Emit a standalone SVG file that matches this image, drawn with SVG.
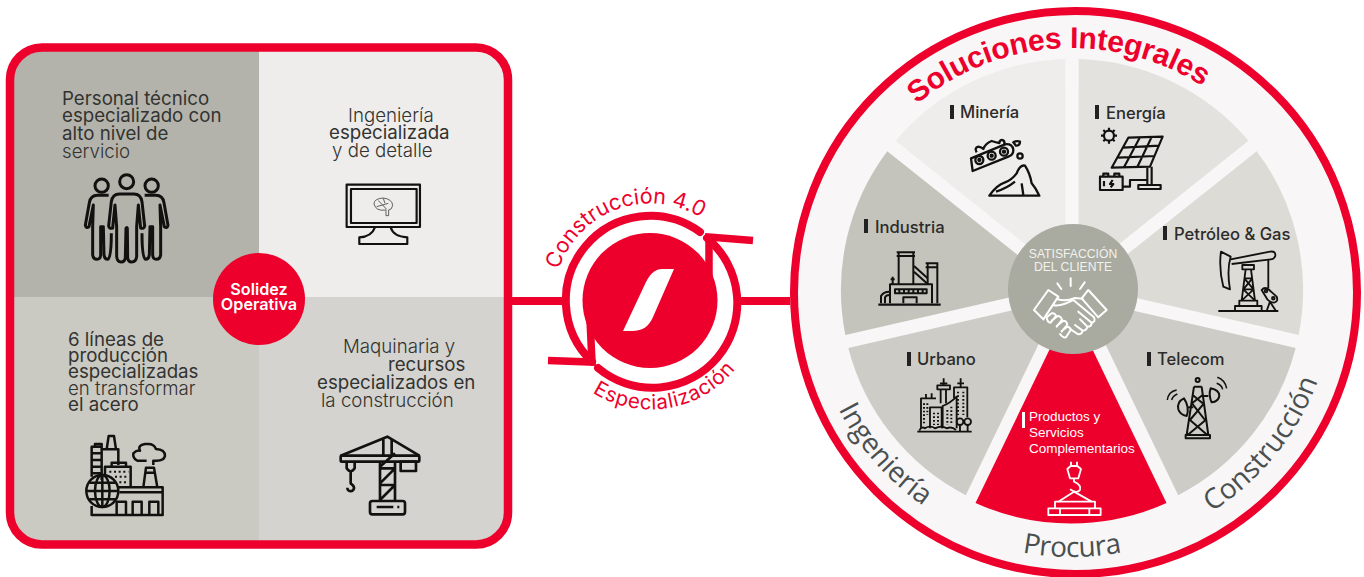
<svg xmlns="http://www.w3.org/2000/svg" width="1364" height="577" viewBox="0 0 1364 577">
<style>
.t{font-family:Inter,"Liberation Sans",sans-serif;font-size:18.7px;fill:#333331}
.l{font-weight:300}
.lab{font-family:Inter,"Liberation Sans",sans-serif;font-size:16.6px;font-weight:500;fill:#2b2b2a}
.ic{fill:none;stroke:#111110;stroke-linejoin:round}
.ring{font-family:"Open Sans","Liberation Sans",sans-serif;font-size:28px;fill:#4a4f4f}
.red{fill:#ed002c}
.cn{fill:none;stroke:#ed002c;stroke-width:8}
.sm{font-family:Inter,"Liberation Sans",sans-serif;fill:#ed002c}
</style>
<defs>
<clipPath id="pc"><rect x="10" y="47.5" width="498" height="497" rx="32"/></clipPath>
<path id="wedge" d="M0 -15 L94.2 -211 A231 231 0 0 0 -94.2 -211 Z"/>
<path id="a1" d="M830 290 A242 242 0 0 1 1314 290"/>
<path id="a2" d="M810 290 A262 262 0 0 0 1334 290"/>
<path id="a3" d="M805 290 A267 267 0 0 0 1339 290"/>
<path id="a4" d="M553.5 300.5 A97 97 0 0 1 747.5 300.5"/>
<path id="a5" d="M541.5 300.5 A109 109 0 0 0 759.5 300.5"/>
</defs>

<g id="connectors">
<path class="cn" d="M512 301 H562 M739 301 H790"/>
<path class="cn" stroke-linecap="round" d="M700 232 A84.5 84.5 0 0 0 592 361.5"/>
<path class="cn" stroke-linecap="round" d="M598 368 A84.5 84.5 0 0 0 707 238"/>
</g>

<g id="panel">
<g clip-path="url(#pc)">
<rect x="10" y="47" width="249" height="250" fill="#b4b3ab"/>
<rect x="259" y="47" width="249" height="250" fill="#eeedeb"/>
<rect x="10" y="297" width="249" height="248" fill="#cacac3"/>
<rect x="259" y="297" width="249" height="248" fill="#d4d3cf"/>
</g>
<rect x="10" y="47.5" width="498" height="497" rx="32" fill="none" stroke="#ed002c" stroke-width="8.5"/>
</g>

<g id="personal">
<text class="t" x="62" y="105">Personal técnico</text>
<text class="t" x="62" y="122">especializado con</text>
<text class="t" x="62" y="140">alto nivel de</text>
<text class="t l" x="62" y="158">servicio</text>
<g class="ic" transform="translate(70 160) scale(.3333)" stroke-width="9">
<circle cx="170" cy="65" r="21"/><circle cx="95" cy="77" r="20"/><circle cx="245" cy="77" r="20"/>
<path d="M148 102 H192 Q212 102 216 125 L224 198 Q222 208 212 204 L205 135 L200 200 V290 Q198 306 185 306 Q174 306 173 292 L172 205 Q171 200 168 205 L166 292 Q165 306 153 306 Q142 306 140 290 V200 L135 135 L128 204 Q118 208 116 198 L124 125 Q128 102 148 102 Z"/>
<path d="M116 106 H82 Q62 106 58 128 L46 196 Q48 206 57 200 L70 135 L68 200 V285 Q70 298 81 298 Q91 298 92 285 L92 200 L100 200 L102 285 Q104 298 113 298 Q124 298 124 220"/>
<path d="M224 106 H258 Q278 106 282 128 L294 196 Q292 206 283 200 L270 135 L272 200 V285 Q270 298 259 298 Q249 298 248 285 L248 200 L240 200 L238 285 Q236 298 227 298 Q216 298 216 220"/>
</g>
</g>

<g id="ingenieria-detalle">
<text class="t l" x="348" y="122">Ingeniería</text>
<text class="t" x="329" y="139">especializada</text>
<text class="t l" x="332" y="157">y de detalle</text>
<g class="ic" transform="translate(0 30) scale(.3333)">
<g stroke-width="6.500"><rect x="1040" y="464" width="220" height="127"/><rect x="1053" y="477" width="197" height="102"/>
<path d="M1125 592 Q1115 620 1078 622 V642 H1222 V622 Q1180 620 1172 592"/></g>
<g stroke-width="2.500" stroke="#444"><path d="M1122 522 Q1122 506 1150 504 Q1178 508 1178 527 Q1175 540 1166 540 V557 H1158 V540 Q1128 545 1122 522 Z"/>
<path d="M1135 512 L1148 525 L1165 520 M1150 505 L1155 520 M1130 530 L1148 525 L1160 538"/></g>
</g>
</g>

<g id="lineas">
<text class="t" x="68" y="346">6 líneas de</text>
<text class="t" x="68" y="362">producción</text>
<text class="t" x="68" y="378">especializadas</text>
<text class="t l" x="68" y="395">en transformar</text>
<text class="t" x="68" y="411">el acero</text>
<g class="ic" transform="translate(0 290) scale(.3333)" stroke-width="7.500">
<path d="M275 560 V470 H305 V570 M275 490 H305 M275 510 H305 M275 530 H305 M275 550 H305 M285 470 V462 H305 V478 H355 V525"/>
<path d="M320 478 L326 438 H342 L348 478"/>
<path d="M315 555 V530 H392 V592 M335 530 V518 H378 V530"/>
<path d="M328 545 H385 M345 560 H385 M358 577 H385" stroke-width="6" stroke-dasharray="6 8"/>
<path d="M430 592 L438 533 H462 L472 592 M435 548 H466"/>
<path d="M440 512 H412 Q398 505 400 490 Q410 480 420 482 Q412 465 435 462 H445 Q462 462 468 477 Q495 478 495 498 Q492 512 470 512 H460 V525"/>
<path d="M355 592 H488 V675 H275 V648 M358 607 H488"/>
<path d="M350 675 V635 H378 V675 M398 675 V635 H425 V675 M448 675 V635 H475 V675"/>
<circle cx="307" cy="603" r="48"/><ellipse cx="307" cy="603" rx="22" ry="48"/>
<path d="M307 555 V651 M259 603 H355 M268 578 H346 M268 628 H346"/>
</g>
</g>

<g id="maquinaria">
<text class="t l" x="343" y="353">Maquinaria y</text>
<text class="t" x="388" y="371">recursos</text>
<text class="t" x="317" y="389">especializados en</text>
<text class="t l" x="321" y="407">la construcción</text>
<g class="ic" transform="translate(330 425) scale(.3333)" stroke-width="8">
<path d="M150 110 V225 M195 110 V225 M150 125 L195 85 M150 130 H195 M150 175 L195 130 M150 180 H195 M150 225 L195 180"/>
<path d="M32 92 L172 35 L268 92 M160 38 V92 M185 42 V92"/>
<rect x="32" y="92" width="236" height="18" rx="3"/>
<rect x="212" y="110" width="46" height="28"/>
<path d="M50 112 V130 Q62 148 74 130 V112 M62 142 V175 Q80 188 66 198 Q52 200 52 188"/>
<rect x="120" y="228" width="105" height="40" rx="7"/>
<path d="M140 246 H190 M202 246 H208"/>
</g>
</g>

<g id="solidez">
<circle class="red" cx="259" cy="299" r="46"/>
<text x="259" y="295" text-anchor="middle" font-family="Inter,'Liberation Sans',sans-serif" font-size="16.200" font-weight="600" fill="#fff">Solidez</text>
<text x="259" y="310" text-anchor="middle" font-family="Inter,'Liberation Sans',sans-serif" font-size="16.200" font-weight="600" fill="#fff">Operativa</text>
</g>

<g id="especializacion-ciclo">
<circle class="red" cx="650" cy="300.5" r="67.5"/>
<path d="M674 269 H662 C654 269 649 276 646 282 L623 331 H632 C643 331 649 326 653 317 Z" fill="#fff"/>
<path d="M753 240.500 L709 237 L709 285" fill="none" stroke="#ed002c" stroke-width="7.500"/>
<path d="M548 360.500 L592 362 L590 320" fill="none" stroke="#ed002c" stroke-width="7.500"/>
<text class="sm" font-size="21.500"><textPath href="#a4" startOffset="38.900%" text-anchor="middle">Construcción 4.0</textPath></text>
<text class="sm" font-size="20.500" letter-spacing=".6"><textPath href="#a5" startOffset="55.300%" text-anchor="middle">Especialización</textPath></text>
</g>

<g id="rueda">
<circle cx="1075.500" cy="292.500" r="281.500" fill="#f8f6f7" stroke="#ed002c" stroke-width="8"/>
<text font-family="'Liberation Sans',Arial,sans-serif" font-size="30" font-weight="700" fill="#ed002c" letter-spacing="-.2"><textPath href="#a1" startOffset="48%" text-anchor="middle">Soluciones Integrales</textPath></text>
<text class="ring"><textPath href="#a2" startOffset="22.900%" text-anchor="middle">Ingeniería</textPath></text>
<text class="ring" letter-spacing="-.4"><textPath href="#a3" startOffset="50%" text-anchor="middle">Procura</textPath></text>
<text class="ring"><textPath href="#a2" startOffset="78.300%" text-anchor="middle">Construcción</textPath></text>
</g>

<g id="mineria">
<use href="#wedge" transform="translate(1072 290) rotate(-25.714)" fill="#eeedeb"/>
<rect x="950" y="105" width="4" height="14" fill="#222"/>
<text class="lab" x="960" y="118">Minería</text>
<g class="ic" transform="translate(960 125) scale(.3333)" stroke-width="7">
<path d="M33 100 L135 58 Q158 55 160 75 Q160 90 145 95 L38 138 Z"/>
<circle cx="58" cy="105" r="12"/><circle cx="95" cy="92" r="12"/><circle cx="132" cy="80" r="12"/>
<circle cx="58" cy="105" r="3"/><circle cx="95" cy="92" r="3"/><circle cx="132" cy="80" r="3"/>
<path d="M50 82 Q42 68 55 65 Q65 67 70 72 Q76 55 95 48 Q108 52 118 54 Q120 42 130 46 Q136 52 132 60"/>
<path d="M160 52 Q170 46 180 50 Q180 62 168 62 Z"/><circle cx="180" cy="93" r="8"/>
<path d="M88 212 H238 Q228 190 215 175 Q210 145 195 122 Q180 118 170 145 Q155 165 135 172 Q110 180 88 212 Z"/>
<path d="M108 200 Q140 190 165 170 M190 210 L185 175"/>
</g>
</g>

<g id="energia">
<use href="#wedge" transform="translate(1072 290) rotate(25.714)" fill="#e3e2de"/>
<rect x="1095" y="105" width="4" height="14" fill="#222"/>
<text class="lab" x="1106" y="119">Energía</text>
<g class="ic" transform="translate(960 125) scale(.3333)" stroke-width="6.500">
<circle cx="447" cy="32" r="15"/>
<path d="M447 8 V16 M447 48 V56 M423 32 H431 M463 32 H471 M430 15 L436 21 M458 43 L464 49 M464 15 L458 21 M436 43 L430 49"/>
<path d="M505 38 L608 35 L570 125 L455 128 Z M490 68 L597 62 M475 98 L585 93 M540 37 L492 127 M575 36 L532 126"/>
<path d="M562 128 V178 M575 125 V178 M535 192 H602 V180 H535 Z"/>
<path d="M420 155 H488 V195 H420 Z M430 155 V146 H445 V155 M463 155 V146 H478 V155 M432 168 V184 M458 165 L450 177 H460 L452 187"/>
<path d="M488 185 H510 V165 H562"/>
</g>
</g>

<g id="petroleo">
<use href="#wedge" transform="translate(1072 290) rotate(77.143)" fill="#dcdbd6"/>
<rect x="1163" y="226" width="4" height="14" fill="#222"/>
<text class="lab" x="1174" y="240">Petróleo &amp; Gas</text>
<g class="ic" transform="translate(1010 230) scale(.3333)" stroke-width="5.500">
<path d="M625 243 H805"/>
<path d="M633 65 Q626 115 640 170 L660 178 Q650 120 662 80 Z"/>
<path d="M662 88 L780 65 Q798 62 796 78 Q792 88 782 88 L665 102"/>
<path d="M697 105 H732 V118 H697 Z M707 118 L695 212 M723 118 L735 212 M703 145 H727 M700 178 H731 M703 145 L731 178 M727 145 L700 178 M700 178 L735 212 M731 178 L695 212"/>
<path d="M675 243 V228 H755 V243 M688 228 V212 H742 V228"/>
<path d="M775 88 V175"/>
<path d="M755 180 Q765 168 778 180 L800 200 Q806 215 792 218 Q782 218 772 208 Z"/>
<circle cx="768" cy="183" r="4"/><circle cx="790" cy="205" r="4"/>
<path d="M770 243 L780 215 L798 243"/>
</g>
</g>

<g id="telecom">
<use href="#wedge" transform="translate(1072 290) rotate(128.571)" fill="#cdccc6"/>
<rect x="1147" y="352" width="4" height="14" fill="#222"/>
<text class="lab" x="1157" y="365">Telecom</text>
<g class="ic" transform="translate(1030 370) scale(.3333)" stroke-width="6">
<circle cx="503" cy="30" r="6"/>
<path d="M492 50 L470 195 M515 50 L535 195 M492 50 H515 M488 75 L518 100 M518 75 L486 100 M486 100 L525 150 M522 100 L480 150 M480 150 L532 195 M527 150 L473 195"/>
<path d="M467 195 H540 V205 H467 Z"/>
<path d="M462 85 Q440 95 445 118 Q450 135 470 138 Q480 112 462 85 Z M476 112 H490"/>
<path d="M542 55 Q568 60 568 78 Q565 95 545 97 Q535 75 542 55 Z M515 78 H535"/>
<path d="M412 90 Q415 65 440 60 M425 90 Q428 78 442 72 M590 55 Q585 30 562 22 M578 58 Q575 45 560 40" stroke-width="4.500"/>
</g>
</g>

<g id="productos">
<path d="M0 -15 L95.500 -213 A233 233 0 0 0 -95.500 -213 Z" transform="translate(1071 290) rotate(180)" class="red"/>
<rect x="1022" y="412" width="3" height="16" fill="#fff"/>
<text x="1029" y="421" font-family="'Liberation Sans',Arial,sans-serif" font-size="13.500" fill="#fff">Productos y</text>
<text x="1029" y="437" font-family="'Liberation Sans',Arial,sans-serif" font-size="13.500" fill="#fff">Servicios</text>
<text x="1029" y="453" font-family="'Liberation Sans',Arial,sans-serif" font-size="13.500" fill="#fff">Complementarios</text>
<g fill="none" stroke="#fff" stroke-width="5.500" stroke-linejoin="round" transform="translate(1030 370) scale(.3333)">
<path d="M123 275 V290 M141 275 V290 M112 297 L122 288 H142 L153 297 L145 325 H120 Z"/>
<path d="M132 325 V335 Q155 345 150 360 Q140 372 120 358"/>
<path d="M132 365 L85 395 M132 365 L185 395"/>
<path d="M75 415 V395 H195 V415 M55 415 H212 V435 H55 Z M90 415 V435 M178 415 V435 M110 395 H150"/>
</g>
</g>

<g id="urbano">
<use href="#wedge" transform="translate(1072 290) rotate(231.429)" fill="#cdccc6"/>
<rect x="907" y="352" width="4" height="14" fill="#222"/>
<text class="lab" x="917" y="365">Urbano</text>
<g class="ic" transform="translate(820 300) scale(.3333)" stroke-width="5.500">
<path d="M292 395 H455"/>
<path d="M303 385 V295 H348 M318 295 V282 M335 295 V280"/>
<path d="M330 385 V322 H365 V385"/>
<path d="M352 256 H390 V268 H352 Z M371 256 V235 M362 268 V310 M378 268 V310 M360 250 H382"/>
<path d="M368 385 V318 Q390 310 410 290 V385"/>
<path d="M402 295 V262 H442 V352 M422 262 V235 M412 250 H432"/>
<path d="M312 310 V375 M322 310 V345 M342 338 V375 M354 338 V375 M382 330 V375 M394 320 V375 M414 275 V345 M430 275 V345" stroke-width="6" stroke-dasharray="5 6"/>
<circle cx="420" cy="365" r="10"/><circle cx="443" cy="365" r="10"/><path d="M420 375 V393 M443 375 V393"/>
<path d="M298 392 Q304 378 315 385 Q330 375 345 385 Q365 375 380 385 Q395 378 408 390"/>
</g>
</g>

<g id="industria">
<use href="#wedge" transform="translate(1072 290) rotate(282.857)" fill="#c5c4bc"/>
<rect x="864" y="219" width="4" height="14" fill="#222"/>
<text class="lab" x="875" y="233">Industria</text>
<g class="ic" transform="translate(870 240) scale(.3333)" stroke-width="6">
<path d="M80 37 H135 M80 48 H135 M86 37 V132 M130 37 V132"/>
<path d="M167 70 H205 M167 82 H205 M173 70 V133 M202 70 V190"/>
<path d="M132 78 L173 115 M132 95 L173 132"/>
<path d="M60 190 V133 H186 V190"/>
<path d="M75 148 H170 V160 H75 Z M88 148 V160 M102 148 V160 M116 148 V160 M130 148 V160 M144 148 V160 M158 148 V160"/>
<path d="M100 190 V172 H140 V190"/>
<path d="M25 194 H212" stroke-width="7"/>
<path d="M33 190 V168 Q40 155 58 155 M45 190 V172 Q48 165 58 165 M68 110 V133 M62 118 H74"/>
</g>
</g>

<g id="satisfaccion">
<circle cx="1073" cy="289" r="65" fill="#a9aaa0"/>
<text x="1073" y="258" text-anchor="middle" font-family="'Liberation Sans',Arial,sans-serif" font-size="12.200" fill="#f2f2ee">SATISFACCIÓN</text>
<text x="1073" y="271" text-anchor="middle" font-family="'Liberation Sans',Arial,sans-serif" font-size="12.200" fill="#f2f2ee">DEL CLIENTE</text>
<g fill="none" stroke="#fff" stroke-width="6" stroke-linejoin="round" stroke-linecap="round" transform="translate(1010 230) scale(.3333)">
<path d="M182 145 V168 M142 160 L154 177 M224 157 L210 177"/>
<path d="M72 240 L115 180 L145 200 L100 268 Z"/>
<path d="M235 180 L290 240 L265 262 L215 205 Z"/>
<path d="M142 207 Q165 216 195 204 L218 206"/>
<path d="M130 225 Q150 232 190 210 L252 262 Q258 275 245 278 L205 245"/>
<path d="M110 262 L125 250 Q135 248 138 258 L122 278 Q112 278 110 262 M125 272 L143 258 Q153 258 156 270 L140 290 M140 288 L160 272 Q170 272 172 284 L155 305 M155 303 L172 290 Q182 292 182 300 L168 322 Q160 325 150 312"/>
<path d="M245 278 Q245 290 232 290 L210 268 M232 290 Q230 302 218 302 L195 285 M218 302 Q215 315 203 312 L182 298"/>
</g>
</g>
</svg>
